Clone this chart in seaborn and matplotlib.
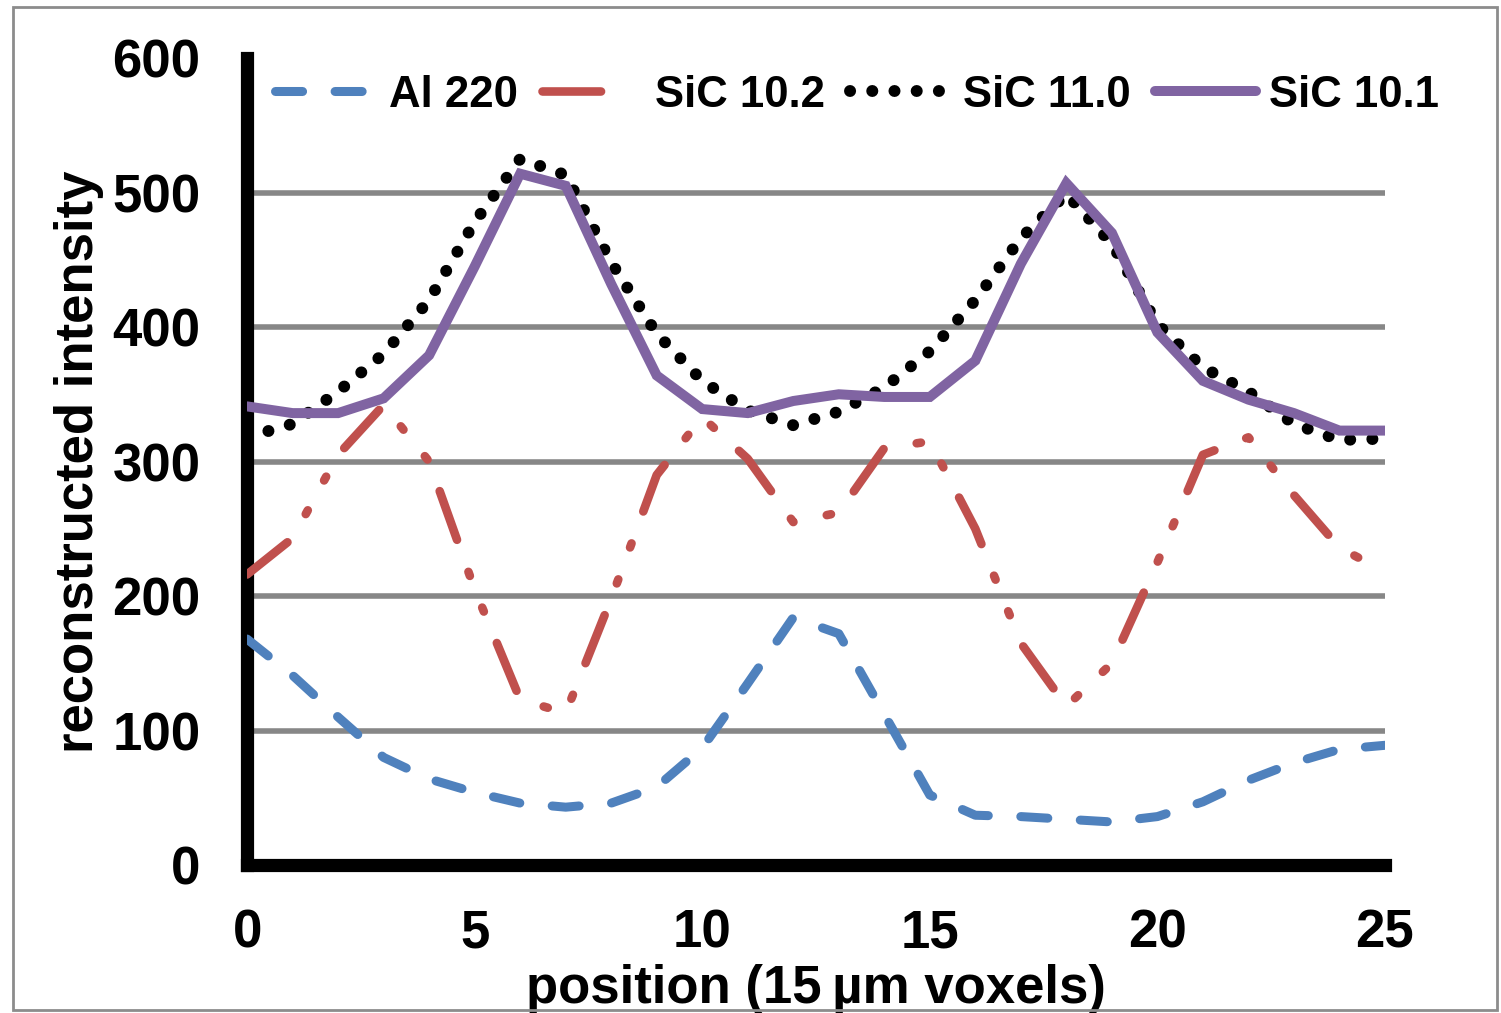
import numpy as np
import pandas as pd
import seaborn as sns
from matplotlib import pyplot as plt
from matplotlib.patches import Rectangle

## Data
position = list(range(26))
al_220 = [168, 141, 110, 80, 64, 54, 46, 43, 46, 58, 87, 135, 184,
          172, 112, 52, 37, 36, 34, 32, 36, 47, 63, 76, 86, 89]
sic_10_2 = [216, 243, 305, 342, 300, 205, 123, 113, 198, 290, 333, 302, 255,
            262, 310, 315, 250, 165, 118, 150, 225, 305, 318, 275, 236, 218]
sic_11_0 = [318, 328, 352, 380, 420, 478, 525, 513, 448, 395, 360, 338, 327,
            337, 355, 382, 420, 466, 499, 462, 402, 370, 352, 328, 316, 317]
sic_10_1 = [341, 336, 336, 347, 379, 445, 514, 505, 432, 364, 339, 336, 345,
            350, 348, 348, 375, 447, 507, 470, 396, 360, 346, 336, 323, 323]

series_names = ['Al 220', 'SiC 10.2', 'SiC 11.0', 'SiC 10.1']
series_values = [al_220, sic_10_2, sic_11_0, sic_10_1]
grid_levels = [100, 200, 300, 400, 500]

## line looks: colour, width (pt), dash pattern (in line widths)
colors = ['#4F81BD', '#C0504D', '#000000', '#8064A2']
widths = [6.5, 6.2, 8.6, 7.2]
styles = [(0, (3.0, 3.6)),
          (0, (6.0, 3.95, 0.5, 3.95, 0.5, 3.95)),
          (0, (0.01, 1.85)),
          '-']

sns.set_style("white")
plt.rcParams['font.family'] = ['Liberation Sans', 'DejaVu Sans']
plt.rcParams['font.weight'] = 'bold'
plt.rcParams['text.color'] = 'black'
plt.rcParams['axes.labelcolor'] = 'black'
plt.rcParams['xtick.color'] = 'black'
plt.rcParams['ytick.color'] = 'black'

fig = plt.figure(figsize=(15.01, 10.13), dpi=100)
ax = fig.add_axes([0.1646, 0.1461, 0.7581, 0.7966])

## horizontal grey gridlines
ax.hlines(grid_levels, 0, 25, color='#878787', lw=4, zorder=1)

for name, vals, col, lw, ls in zip(series_names, series_values, colors, widths, styles):
    df = pd.DataFrame({'position': position, 'intensity': vals})
    sns.lineplot(data=df, x='position', y='intensity', ax=ax, color=col,
                 lw=lw, linestyle=ls, label=name, zorder=3,
                 dash_capstyle='round', solid_capstyle='round',
                 solid_joinstyle='miter')

ax.set_xlim(0, 25)
ax.set_ylim(0, 600)
ax.set_xticks(np.arange(0, 26, 5))
ax.set_yticks(np.arange(0, 601, 100))

for side in ['top', 'right']:
    ax.spines[side].set_visible(False)
for side in ['left', 'bottom']:
    ax.spines[side].set_linewidth(9.5)
    ax.spines[side].set_color('black')
    ax.spines[side].set_zorder(2)

ax.tick_params(axis='both', which='major', direction='out', length=12.5,
               width=8, color='black', labelcolor='black', labelsize=38, pad=21)
ax.tick_params(axis='x', pad=19)
for lab in ax.get_xticklabels() + ax.get_yticklabels():
    lab.set_fontweight('bold')

ax.set_xlabel('position (15\u2009µm voxels)', fontsize=38, fontweight='bold',
              color='black', labelpad=4)
ax.set_ylabel('reconstructed intensity', fontsize=38, fontweight='bold',
              color='black', labelpad=6)

leg = ax.legend(loc='center left', bbox_to_anchor=(0.0246, 0.954), ncol=4,
                frameon=False, prop={'size': 31.5, 'weight': 'bold'},
                handlelength=2.3, handletextpad=0.3, columnspacing=0.55,
                borderpad=0, borderaxespad=0, labelcolor='black')
## the red key shows only its long dash
leg.get_lines()[1].set_linestyle((0, (6.8, 20)))

## thin grey frame around the whole picture
fig.patches.append(Rectangle((13 / 1501, 3 / 1013), 1484 / 1501, 1003 / 1013,
                             transform=fig.transFigure, fill=False,
                             edgecolor='#8c8c8c', lw=2))

plt.savefig('out.png', dpi=100)
